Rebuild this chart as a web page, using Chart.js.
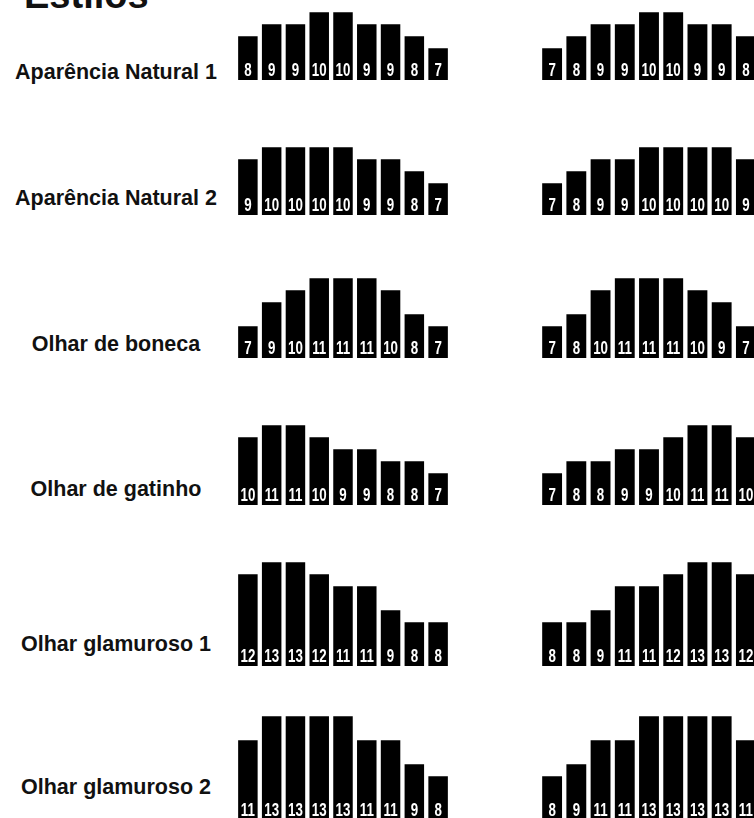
<!DOCTYPE html>
<html>
<head>
<meta charset="utf-8">
<script src="https://cdn.jsdelivr.net/npm/chart.js@4.4.1/dist/chart.umd.min.js"></script>
<style>
    body {
        margin: 0;
        width: 754px;
        height: 818px;
        overflow: hidden;
        background: #fff;
        position: relative;
        font-family: 'Liberation Sans', Arial, sans-serif;
        color: #111;
    }
    .title {
        position: absolute;
        left: 24px;
        top: -24px;
        font-size: 38px;
        line-height: 38px;
        font-weight: bold;
    }
    .label {
        position: absolute;
        left: 0;
        width: 232px;
        text-align: center;
        font-size: 21.5px;
        line-height: 21px;
        font-weight: bold;
        white-space: nowrap;
    }
    canvas { position: absolute; }
</style>
</head>
<body>
<div class="title">Estilos</div>

<script>
// Style names (one row each)
const styleNames = [
    'Aparência Natural 1',
    'Aparência Natural 2',
    'Olhar de boneca',
    'Olhar de gatinho',
    'Olhar glamuroso 1',
    'Olhar glamuroso 2'
];

// Lash lengths, 9 positions per eye
const leftEye = [
    [8, 9, 9, 10, 10, 9, 9, 8, 7],
    [9, 10, 10, 10, 10, 9, 9, 8, 7],
    [7, 9, 10, 11, 11, 11, 10, 8, 7],
    [10, 11, 11, 10, 9, 9, 8, 8, 7],
    [12, 13, 13, 12, 11, 11, 9, 8, 8],
    [11, 13, 13, 13, 13, 11, 11, 9, 8]
];

const rightEye = [
    [7, 8, 9, 9, 10, 10, 9, 9, 8],
    [7, 8, 9, 9, 10, 10, 10, 10, 9],
    [7, 8, 10, 11, 11, 11, 10, 9, 7],
    [7, 8, 8, 9, 9, 10, 11, 11, 10],
    [8, 8, 9, 11, 11, 12, 13, 13, 12],
    [8, 9, 11, 11, 13, 13, 13, 13, 11]
];

const positions = ['1', '2', '3', '4', '5', '6', '7', '8', '9'];

// -------------------------------
//  LAYOUT
// -------------------------------
const rowBase = [80, 215, 358, 505, 666, 820];      // bar bottoms
const labelBase = [80, 206, 352, 497, 652, 795];    // text baselines
const CHART_H = 110;
const PX_PER_UNIT = 12;
const Y_MIN = 4.35;
const Y_MAX = Y_MIN + CHART_H / PX_PER_UNIT;

// numbers drawn at the foot of each bar
const valueLabels = {
    id: 'valueLabels',
    afterDraw(chart) {
        const ctx = chart.ctx;
        const values = chart.data.datasets[0].data;
        const xScale = chart.scales.x;
        const yBottom = chart.scales.y.getPixelForValue(Y_MIN);
        ctx.save();
        ctx.fillStyle = '#ffffff';
        ctx.font = 'bold 18px "Liberation Sans", Arial, sans-serif';
        ctx.textAlign = 'center';
        ctx.textBaseline = 'alphabetic';
        values.forEach((v, i) => {
            const x = xScale.getPixelForValue(i);
            ctx.save();
            ctx.translate(x, yBottom - 4);
            ctx.scale(0.74, 1);
            ctx.fillText(String(v), 0, 0);
            ctx.restore();
        });
        ctx.restore();
    }
};

function makeEyeChart(values, left, width, base) {
    const canvas = document.createElement('canvas');
    canvas.width = width;
    canvas.height = CHART_H;
    canvas.style.left = left + 'px';
    canvas.style.top = (base - CHART_H) + 'px';
    canvas.style.width = width + 'px';
    canvas.style.height = CHART_H + 'px';
    document.body.appendChild(canvas);

    return new Chart(canvas.getContext('2d'), {
        type: 'bar',
        data: {
            labels: positions,
            datasets: [{
                data: values,
                backgroundColor: '#000',
                borderWidth: 0,
                barPercentage: 0.82,
                categoryPercentage: 1.0
            }]
        },
        options: {
            responsive: false,
            animation: false,
            devicePixelRatio: 1,
            layout: { padding: 0 },
            scales: {
                x: { display: false },
                y: { display: false, min: Y_MIN, max: Y_MAX }
            },
            plugins: {
                legend: { display: false },
                tooltip: { enabled: false }
            }
        },
        plugins: [valueLabels]
    });
}

styleNames.forEach((name, r) => {
    const lbl = document.createElement('div');
    lbl.className = 'label';
    lbl.textContent = name;
    // line-height 21px puts the baseline ~18px below the top
    lbl.style.top = (labelBase[r] - 18) + 'px';
    document.body.appendChild(lbl);

    makeEyeChart(leftEye[r], 236, 214, rowBase[r]);
    makeEyeChart(rightEye[r], 540, 218, rowBase[r]);
});
</script>
</body>
</html>
